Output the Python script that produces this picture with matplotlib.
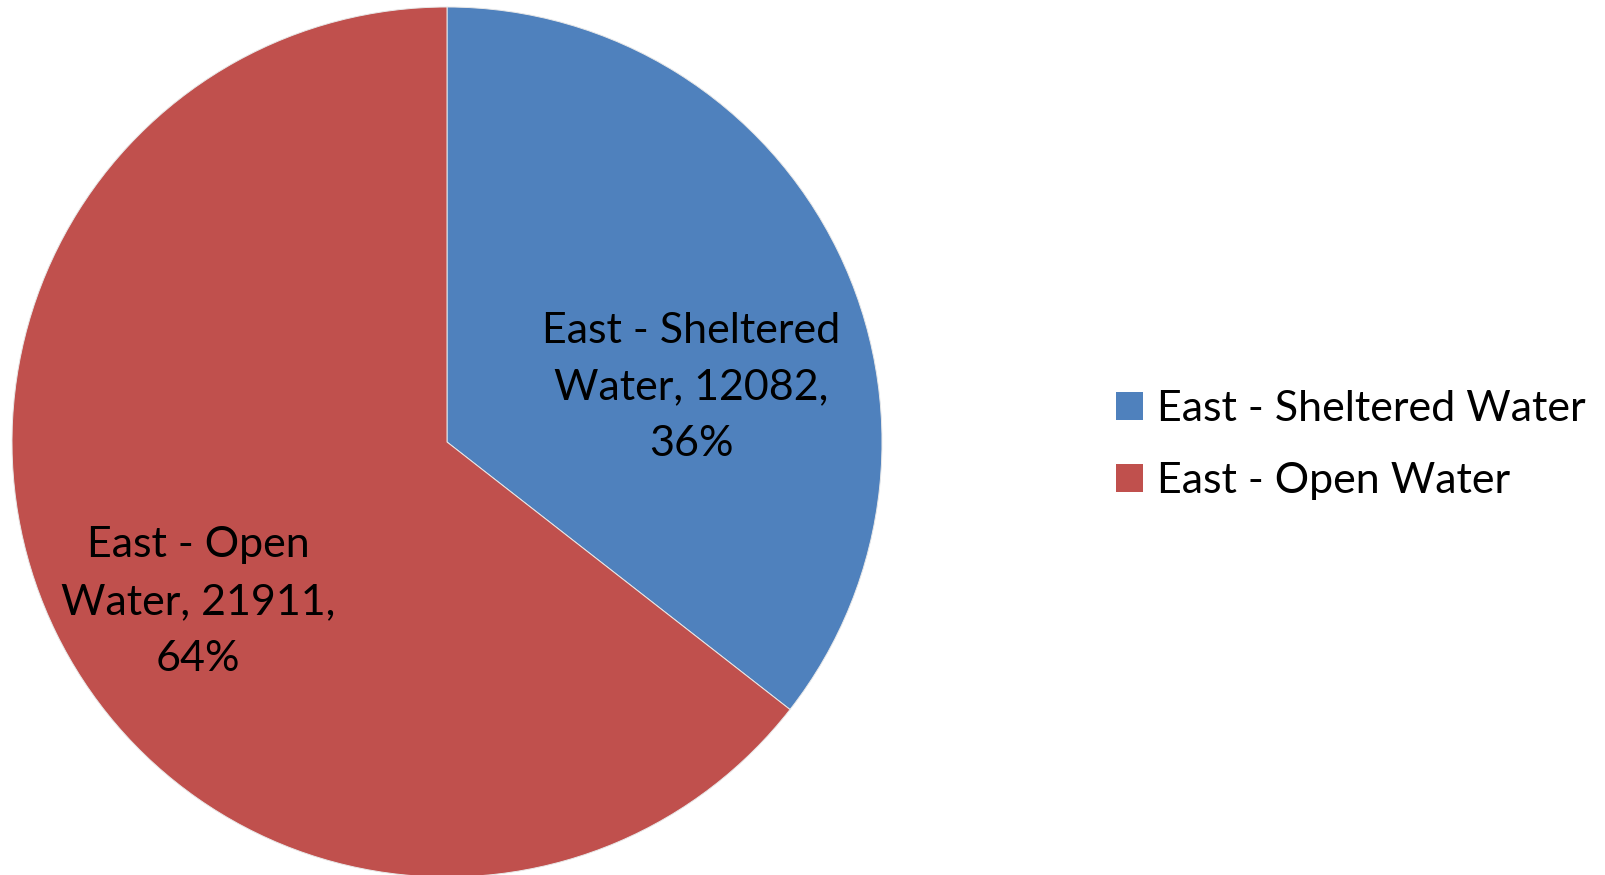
import matplotlib.pyplot as plt
from matplotlib.patches import Patch

# data
labels = ['East - Sheltered Water', 'East - Open Water']
values = [12082, 21911]
colors = ['#4F81BD', '#C0504D']

plt.rcParams['font.family'] = ['Lato', 'DejaVu Sans']

fig = plt.figure(figsize=(16.05, 8.75), dpi=100)
# pie centre at (447, 442) px, radius 435 px
ax = fig.add_axes([(447 - 435) / 1605, (875 - 442 - 435) / 875, 870 / 1605, 870 / 875])

wedges, _ = ax.pie(values, colors=colors, startangle=90, counterclock=False,
                   radius=1, wedgeprops=dict(edgecolor='#e8e8e8', linewidth=0.7))
ax.set_xlim(-1, 1)
ax.set_ylim(-1, 1)
ax.set_aspect('equal')
ax.axis('off')

total = sum(values)
label_pos = [(0.561, 0.126), (-0.572, -0.368)]
for name, v, (x, y) in zip(labels, values, label_pos):
    first, second = name.rsplit(' ', 1)
    txt = f'{first}\n{second}, {v},\n{round(v / total * 100)}%'
    ax.text(x, y, txt, ha='center', va='center', fontsize=31, linespacing=1.6)

handles = [Patch(facecolor=c, edgecolor='none') for c in colors]
fig.legend(handles, labels, loc='center left', bbox_to_anchor=(1116 / 1605, 1 - 445 / 875),
           frameon=False, fontsize=31, handlelength=0.63, handleheight=0.63,
           handletextpad=0.33, labelspacing=0.78, borderpad=0, borderaxespad=0)

fig.savefig('out.png', dpi=100)
